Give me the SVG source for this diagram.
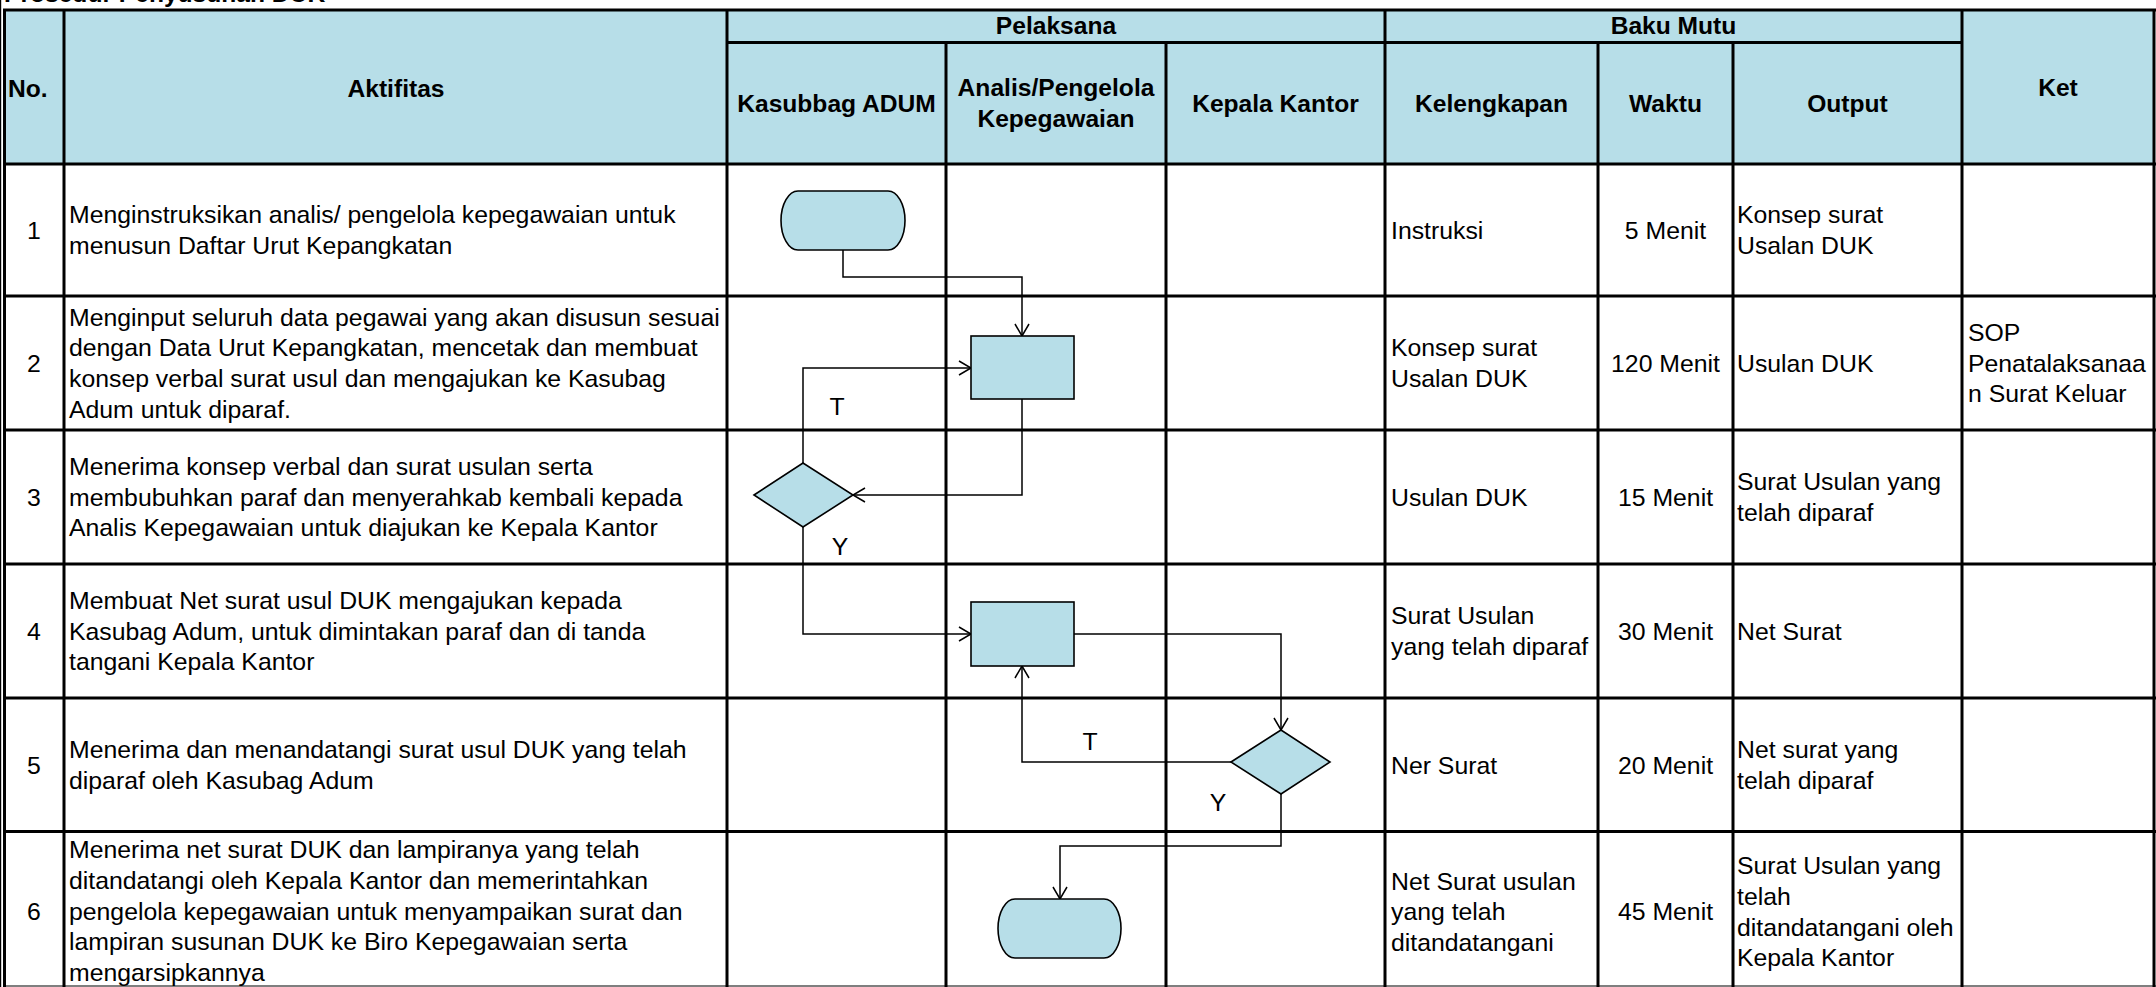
<svg xmlns="http://www.w3.org/2000/svg" width="2156" height="987" viewBox="0 0 2156 987">
<style>
.hf{fill:#B7DEE8}
.g{stroke:#000;stroke-width:3;fill:none}
.gt{stroke:#000;stroke-width:1.2;fill:none}
.b{font-family:"Liberation Sans",Arial,sans-serif;font-weight:bold;font-size:24.6px;fill:#000}
.t{font-family:"Liberation Sans",Arial,sans-serif;font-size:24.8px;fill:#000}
.c{text-anchor:middle}
.s{fill:#B7DEE8;stroke:#000;stroke-width:1.6}
.k{fill:none;stroke:#000;stroke-width:1.5;marker-end:url(#ah)}
</style>
<defs>
<marker id="ah" markerUnits="userSpaceOnUse" markerWidth="16" markerHeight="18" refX="13" refY="8" orient="auto">
<path d="M1,1 L13,8 L1,15" fill="none" stroke="#000" stroke-width="1.5"/>
</marker>
</defs>
<rect width="2156" height="987" fill="#fff"/>
<text class="b" x="4" y="1.5">Prosedur Penyusunan DUK</text>
<g id="table">
<rect class="hf" x="5" y="10" width="2149" height="154"/>
<g id="grid">
<line class="gt" x1="0.6" y1="0" x2="0.6" y2="987"/>
<line class="g" x1="4.5" y1="10" x2="4.5" y2="987"/>
<line class="g" x1="3" y1="10" x2="2156" y2="10"/>
<line class="g" x1="727" y1="42.5" x2="1962" y2="42.5"/>
<line class="g" x1="3" y1="164" x2="2156" y2="164"/>
<line class="g" x1="3" y1="296" x2="2156" y2="296"/>
<line class="g" x1="3" y1="430" x2="2156" y2="430"/>
<line class="g" x1="3" y1="564" x2="2156" y2="564"/>
<line class="g" x1="3" y1="698" x2="2156" y2="698"/>
<line class="g" x1="3" y1="831.5" x2="2156" y2="831.5"/>
<line class="gt" x1="3" y1="986" x2="2156" y2="986"/>
<line class="g" x1="64" y1="10" x2="64" y2="987"/>
<line class="g" x1="727" y1="10" x2="727" y2="987"/>
<line class="g" x1="946" y1="42.5" x2="946" y2="987"/>
<line class="g" x1="1166" y1="42.5" x2="1166" y2="987"/>
<line class="g" x1="1385" y1="10" x2="1385" y2="987"/>
<line class="g" x1="1598" y1="42.5" x2="1598" y2="987"/>
<line class="g" x1="1733" y1="42.5" x2="1733" y2="987"/>
<line class="g" x1="1962" y1="10" x2="1962" y2="987"/>
<line class="g" x1="2154" y1="10" x2="2154" y2="987"/>
</g>
<g id="header">
<text class="b" x="8" y="96.5">No.</text>
<text class="b c" x="396" y="96.5">Aktifitas</text>
<text class="b c" x="1056" y="33.5">Pelaksana</text>
<text class="b c" x="1673.5" y="33.5">Baku Mutu</text>
<text class="b c" x="836.5" y="111.5">Kasubbag ADUM</text>
<text class="b c" x="1056" y="96">Analis/Pengelola</text>
<text class="b c" x="1056" y="127">Kepegawaian</text>
<text class="b c" x="1275.5" y="111.5">Kepala Kantor</text>
<text class="b c" x="1491.5" y="111.5">Kelengkapan</text>
<text class="b c" x="1665.5" y="111.5">Waktu</text>
<text class="b c" x="1847.5" y="111.5">Output</text>
<text class="b c" x="2058" y="96">Ket</text>
</g>
<g id="row1">
<text class="t c" x="34" y="238.6">1</text>
<text class="t" x="69"><tspan x="69" y="223.3">Menginstruksikan analis/ pengelola kepegawaian untuk</tspan><tspan x="69" y="254">menusun Daftar Urut Kepangkatan</tspan></text>
<text class="t" x="1391" y="238.6">Instruksi</text>
<text class="t c" x="1665.5" y="238.6">5 Menit</text>
<text class="t"><tspan x="1737" y="223.3">Konsep surat</tspan><tspan x="1737" y="254">Usalan DUK</tspan></text>
</g>
<g id="row2">
<text class="t c" x="34" y="371.6">2</text>
<text class="t"><tspan x="69" y="325.6">Menginput seluruh data pegawai yang akan disusun sesuai</tspan><tspan x="69" y="356.3">dengan Data Urut Kepangkatan, mencetak dan membuat</tspan><tspan x="69" y="387">konsep verbal surat usul dan mengajukan ke Kasubag</tspan><tspan x="69" y="417.7">Adum untuk diparaf.</tspan></text>
<text class="t"><tspan x="1391" y="356.3">Konsep surat</tspan><tspan x="1391" y="387">Usalan DUK</tspan></text>
<text class="t c" x="1665.5" y="371.6">120 Menit</text>
<text class="t" x="1737" y="371.6">Usulan DUK</text>
<text class="t"><tspan x="1968" y="340.9">SOP</tspan><tspan x="1968" y="371.6">Penatalaksanaa</tspan><tspan x="1968" y="402.3">n Surat Keluar</tspan></text>
</g>
<g id="row3">
<text class="t c" x="34" y="505.6">3</text>
<text class="t"><tspan x="69" y="474.9">Menerima konsep verbal dan surat usulan serta</tspan><tspan x="69" y="505.6">membubuhkan paraf dan menyerahkab kembali kepada</tspan><tspan x="69" y="536.3">Analis Kepegawaian untuk diajukan ke Kepala Kantor</tspan></text>
<text class="t" x="1391" y="505.6">Usulan DUK</text>
<text class="t c" x="1665.5" y="505.6">15 Menit</text>
<text class="t"><tspan x="1737" y="490.3">Surat Usulan yang</tspan><tspan x="1737" y="521">telah diparaf</tspan></text>
</g>
<g id="row4">
<text class="t c" x="34" y="639.6">4</text>
<text class="t"><tspan x="69" y="608.9">Membuat Net surat usul DUK mengajukan kepada</tspan><tspan x="69" y="639.6">Kasubag Adum, untuk dimintakan paraf dan di tanda</tspan><tspan x="69" y="670.3">tangani Kepala Kantor</tspan></text>
<text class="t"><tspan x="1391" y="624.3">Surat Usulan</tspan><tspan x="1391" y="655">yang telah diparaf</tspan></text>
<text class="t c" x="1665.5" y="639.6">30 Menit</text>
<text class="t" x="1737" y="639.6">Net Surat</text>
</g>
<g id="row5">
<text class="t c" x="34" y="773.6">5</text>
<text class="t"><tspan x="69" y="758.3">Menerima dan menandatangi surat usul DUK yang telah</tspan><tspan x="69" y="789">diparaf oleh Kasubag Adum</tspan></text>
<text class="t" x="1391" y="773.6">Ner Surat</text>
<text class="t c" x="1665.5" y="773.6">20 Menit</text>
<text class="t"><tspan x="1737" y="758.3">Net surat yang</tspan><tspan x="1737" y="789">telah diparaf</tspan></text>
</g>
<g id="row6">
<text class="t c" x="34" y="920.2">6</text>
<text class="t"><tspan x="69" y="858.2">Menerima net surat DUK dan lampiranya yang telah</tspan><tspan x="69" y="888.9">ditandatangi oleh Kepala Kantor dan memerintahkan</tspan><tspan x="69" y="919.6">pengelola kepegawaian untuk menyampaikan surat dan</tspan><tspan x="69" y="950.3">lampiran susunan DUK ke Biro Kepegawaian serta</tspan><tspan x="69" y="981">mengarsipkannya</tspan></text>
<text class="t"><tspan x="1391" y="889.5">Net Surat usulan</tspan><tspan x="1391" y="920.2">yang telah</tspan><tspan x="1391" y="950.9">ditandatangani</tspan></text>
<text class="t c" x="1665.5" y="920.2">45 Menit</text>
<text class="t"><tspan x="1737" y="874.2">Surat Usulan yang</tspan><tspan x="1737" y="904.9">telah</tspan><tspan x="1737" y="935.6">ditandatangani oleh</tspan><tspan x="1737" y="966.3">Kepala Kantor</tspan></text>
</g>
</g>
<g id="connectors">
<path class="k" d="M843,250 V277 H1022 V336"/>
<path class="k" d="M1022,399 V495 H853"/>
<path class="k" d="M803,463 V368 H971"/>
<path class="k" d="M803,527 V634 H971"/>
<path class="k" d="M1074,634 H1281 V730"/>
<path class="k" d="M1231,762 H1022 V666"/>
<path class="k" d="M1281,794 V846 H1060 V899"/>
<text class="t c" x="837" y="414.5">T</text>
<text class="t c" x="840" y="554.6">Y</text>
<text class="t c" x="1090" y="749.6">T</text>
<text class="t c" x="1218" y="810.6">Y</text>
</g>
<g id="start"><rect class="s" x="781" y="191" width="124" height="59" rx="17" ry="29.5"/></g>
<g id="proses1"><rect class="s" x="971" y="336" width="103" height="63"/></g>
<g id="keputusan1"><polygon class="s" points="754,495 803,463 853,495 803,527"/></g>
<g id="proses2"><rect class="s" x="971" y="602" width="103" height="64"/></g>
<g id="keputusan2"><polygon class="s" points="1231,762 1281,730 1330,762 1281,794"/></g>
<g id="end"><rect class="s" x="998" y="899" width="123" height="59" rx="17" ry="29.5"/></g>
</svg>
